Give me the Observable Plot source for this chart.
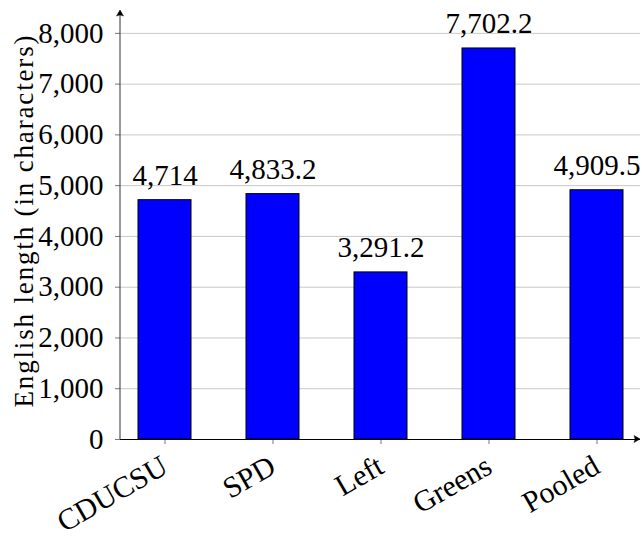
<!DOCTYPE html>
<html><head><meta charset="utf-8">
<script src="https://cdn.jsdelivr.net/npm/d3@7"></script>
<script src="https://cdn.jsdelivr.net/npm/@observablehq/plot@0.6"></script>
<style>body{margin:0;background:#fff}svg{display:block}</style>
</head><body><div id="chart"></div>
<script>
const categories = ["CDUCSU", "SPD", "Left", "Greens", "Pooled"];
const values = [4714, 4833.2, 3291.2, 7702.2, 4909.5];
const yTicks = [0, 1000, 2000, 3000, 4000, 5000, 6000, 7000, 8000];
const yLabel = "English length (in characters)";

const data = categories.map((c, i) => ({party: c, length: values[i]}));
const fmt = d3.format(",");
const font = "'Liberation Serif', 'DejaVu Serif', serif";

const chart = Plot.plot({
  width: 642, height: 541,
  marginLeft: 120, marginRight: 2, marginTop: 10, marginBottom: 102,
  style: {fontFamily: font, fontSize: "28px", background: "white", color: "black", overflow: "visible"},
  x: {domain: categories, paddingInner: 0.51, paddingOuter: 0.162, label: null},
  y: {domain: [0, 8450], label: null},
  marks: [
    Plot.gridY(yTicks, {stroke: "#c8c8c8", strokeOpacity: 1}),
    Plot.axisY(yTicks, {tickSize: 5, tickPadding: 12, tickFormat: fmt, stroke: "#777", fill: "black", fontSize: 29, label: null}),
    Plot.axisX({tickSize: 5, tickPadding: 19, tickRotate: -30, stroke: "#777", fill: "black", fontSize: 30, label: null}),
    Plot.barY(data, {x: "party", y: "length", fill: "#0000ff", stroke: "black", strokeWidth: 1}),
    Plot.text(data, {x: "party", y: "length", text: d => fmt(d.length), dy: -15, lineAnchor: "bottom", fontSize: 29, fill: "black"}),
    Plot.text([yLabel], {frameAnchor: "left", textAnchor: "middle", rotate: -90, dx: -96.5, dy: -3.5, fontSize: 27, fill: "black"}),
    Plot.ruleY([0], {stroke: "black", strokeWidth: 1.2})
  ]
});
document.getElementById("chart").appendChild(chart);

const svg = d3.select(chart);
// stretch the axis label to the width Computer Modern gives it
svg.selectAll("text").filter(function() { return this.textContent === yLabel; })
  .attr("textLength", 372).attr("lengthAdjust", "spacing");

// axis lines with arrowheads (pgfplots style)
const y = chart.scale("y");
const x0 = 120, y0 = y.apply(0), yTop = 10, xRight = 640;
const g = svg.append("g").attr("fill", "black").attr("stroke", "black");
g.append("line").attr("x1", x0).attr("x2", x0).attr("y1", y0).attr("y2", yTop + 2).attr("stroke", "#333");
g.append("path").attr("d", `M${x0},${yTop} l-3.5,6 q3.5,-2 7,0 z`).attr("stroke-width", 0.5);
g.append("path").attr("d", `M${xRight},${y0} l-6,-3.5 q2,3.5 0,7 z`).attr("stroke-width", 0.5);
</script>
</body></html>
